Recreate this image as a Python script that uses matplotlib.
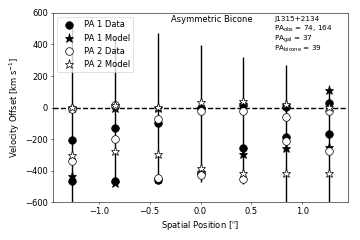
import numpy as np
import matplotlib
matplotlib.use('Agg')
import matplotlib.pyplot as plt

# spatial positions along the slit [arcsec]
pos = [-1.26, -0.84, -0.42, 0.0, 0.42, 0.84, 1.26]

# two velocity components per position [km/s]
pa1_data_1 = [-205, -131, -97, -5, 15, 5, 27]
pa1_data_2 = [-466, -465, -458, -415, -256, -184, -167]
pa1_model_1 = [-5, 0, -5, 0, 23, 13, 114]
pa1_model_2 = [-432, -480, -455, -410, -294, -258, -248]
pa2_data_1 = [-12, 15, -72, -25, -25, -57, -19]
pa2_data_2 = [-337, -201, -449, -427, -453, -210, -279]
pa2_model_1 = [5, 17, 2, 38, 44, 23, 6]
pa2_model_2 = [-300, -275, -294, -383, -415, -415, -417]

# extent of the error bars
err_top = [520, 450, 470, 394, 318, 267, 114]
err_bot = [-700, -480, -470, -474, -485, -700, -700]

info_lines = ['J1315+2134', r'PA$_{\rm obs}$ = 74, 164', r'PA$_{\rm gal}$ = 37', r'PA$_{\rm bicone}$ = 39']

plt.rcParams['font.size'] = 12

fig, ax = plt.subplots(figsize=(7.2, 4.8), dpi=50)
fig.subplots_adjust(left=0.147, right=0.967, top=0.946, bottom=0.158)

ax.vlines(pos, err_bot, err_top, colors='k', lw=2, zorder=1)
ax.axhline(0, ls='--', c='k', lw=2, zorder=1.5)

x2 = pos + pos
ax.plot(x2, pa1_data_1 + pa1_data_2, 'o', ms=11, mfc='k', mec='k', label='PA 1 Data', zorder=2)
ax.plot(x2, pa1_model_1 + pa1_model_2, '*', ms=13, mfc='k', mec='k', label='PA 1 Model', zorder=3)
ax.plot(x2, pa2_data_1 + pa2_data_2, 'o', ms=11, mfc='w', mec='k', label='PA 2 Data', zorder=4)
ax.plot(x2, pa2_model_1 + pa2_model_2, '*', ms=13, mfc='w', mec='k', label='PA 2 Model', zorder=5)

ax.set_xlim(-1.45, 1.45)
ax.set_ylim(-600, 600)
ax.set_xticks([-1.0, -0.5, 0.0, 0.5, 1.0])
ax.set_yticks([-600, -400, -200, 0, 200, 400, 600])
ax.set_xlabel(r"Spatial Position [$''$]")
ax.set_ylabel(r'Velocity Offset [km s$^{-1}$]')

ax.text(0.4, 0.951, 'Asymmetric Bicone', transform=ax.transAxes, va='baseline')
for i, line in enumerate(info_lines):
    ax.text(0.75, 0.96 - 0.053 * i, line, transform=ax.transAxes, va='baseline', fontsize=10.5)

ax.legend(loc='upper left', numpoints=1)

fig.savefig('out.png', dpi=50)
